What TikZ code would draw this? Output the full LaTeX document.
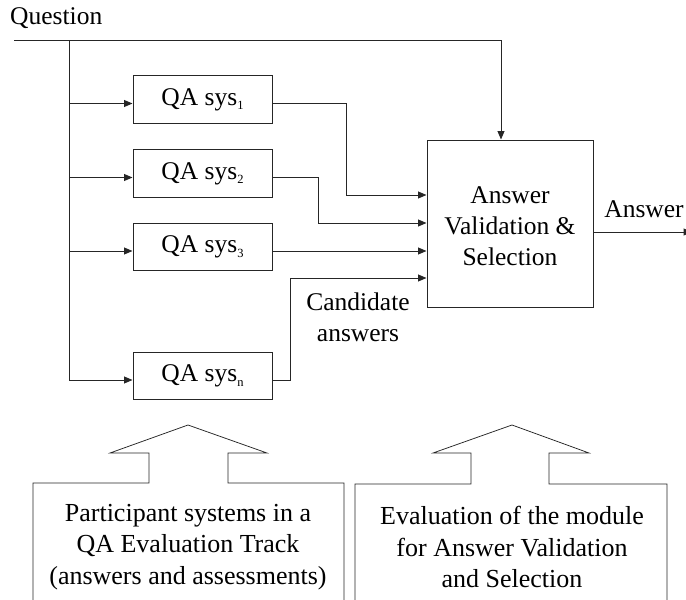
\documentclass[tikz,border=0pt]{standalone}
\usepackage{fontspec}
\setmainfont{Liberation Serif}
\usetikzlibrary{arrows.meta}
\newcommand\mysub[1]{\raisebox{-4.5pt}{\fontsize{12.5}{12.5}\selectfont #1}}
\begin{document}
\begin{tikzpicture}[x=1pt,y=-1pt,
  every node/.style={font=\fontsize{25.5}{31}\selectfont},
  ln/.style={line width=1pt, draw=black!85},
  arr/.style={ln, -{Triangle[length=8.5pt,width=7pt]}},
  qabox/.style={ln, draw, minimum width=139pt, minimum height=47.5pt, inner sep=0pt},
  avsbox/.style={ln, draw, minimum width=166pt, minimum height=167pt, inner sep=0pt},
  callout/.style={line width=0.75pt, draw=black!85},
  ctext/.style={align=center, inner sep=0pt},
  btext/.style={ctext, font=\fontsize{26}{31.5}\selectfont}]
\useasboundingbox (0,0) rectangle (686,600);

% text
\node[anchor=west, inner sep=0pt] (question) at (10,18) {Question};

% boxes
\node[qabox] (q1) at (202.5,99.5) {QA sys\mysub{1}};
\node[qabox] (q2) at (202.5,173.5) {QA sys\mysub{2}};
\node[qabox] (q3) at (202.5,247) {QA sys\mysub{3}};
\node[qabox] (qn) at (202.5,376) {QA sys\mysub{n}};
\node[avsbox] (avs) at (510,223.5) {};
\node[ctext] (avstext) at (510,226) {Answer\\Validation \&\\Selection};

\node[ctext] (cand) at (358,317) {Candidate\\answers};
\node[inner sep=0pt] (ans) at (644,209) {Answer};

% question distribution
\coordinate (qstart) at (14,40);
\coordinate (trunk) at (69,40);
\coordinate (qcorner) at (501,40);
\draw[ln] (qstart) -- (qcorner);
\draw[arr] (qcorner) -- (qcorner |- avs.north);

\path ([yshift=-4pt]q1.west) coordinate (b1)
      ([yshift=-4pt]q2.west) coordinate (b2)
      ([yshift=-4pt]q3.west) coordinate (b3)
      ([yshift=-4pt]qn.west) coordinate (bn);
\draw[ln] (trunk) -- (bn -| trunk);
\draw[arr] (b1 -| trunk) -- (b1);
\draw[arr] (b2 -| trunk) -- (b2);
\draw[arr] (b3 -| trunk) -- (b3);
\draw[arr] (bn -| trunk) -- (bn);

% candidate answers to AVS
\draw[arr] ([yshift=-4pt]q1.east) -- ++(74,0) |- ([yshift=28.5pt]avs.west);
\draw[arr] ([yshift=-4pt]q2.east) -- ++(46,0) |- ([yshift=0.5pt]avs.west);
\draw[arr] ([yshift=-4pt]q3.east) -- ([yshift=-27.5pt]avs.west);
\draw[arr] ([yshift=-4pt]qn.east) -- ++(18,0) |- ([yshift=-54.5pt]avs.west);

% output
\coordinate (aout) at (692,232);
\draw[arr] (avs.east |- aout) -- (aout);

% callouts
\draw[callout] (33,610) -- (33,483) -- (149,483) -- (149,453) -- (110,453)
  -- (188,425) -- (267,453) -- (228,453) -- (228,483) -- (344,483) -- (344,610);
\node[btext] (left) at (188,547) {Participant systems in a\\QA Evaluation Track\\(answers and assessments)};

\draw[callout] (355,610) -- (355,484) -- (471,484) -- (471,453) -- (433,453)
  -- (512,425) -- (589,453) -- (549,453) -- (549,484) -- (667,484) -- (667,610);
\node[btext] (right) at (512,547) {Evaluation of the module\\for Answer Validation\\and Selection};
\end{tikzpicture}
\end{document}
